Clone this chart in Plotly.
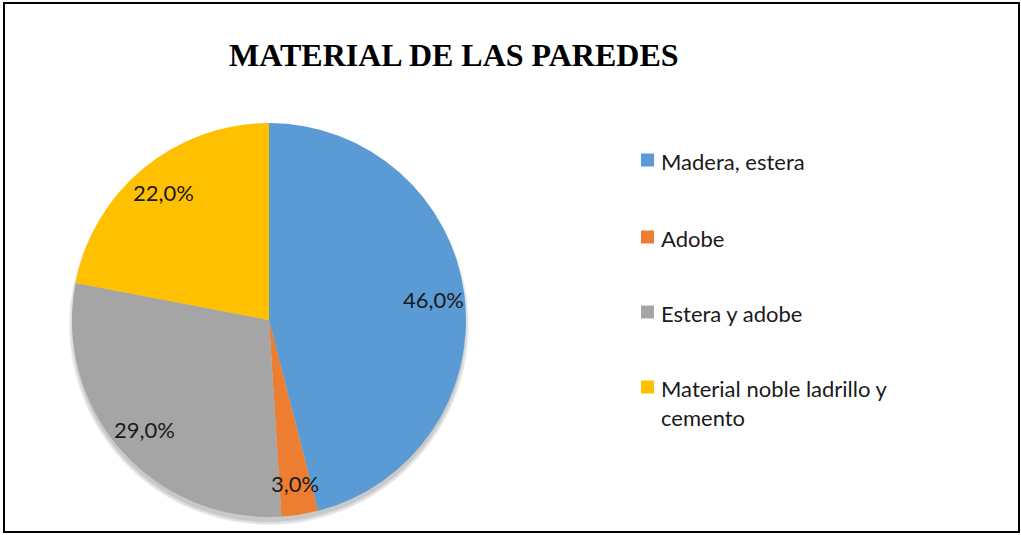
import math
import plotly.graph_objects as go

labels = ["Madera, estera", "Adobe", "Estera y adobe", "Material noble ladrillo y cemento"]
legend_text = ["Madera, estera", "Adobe", "Estera y adobe", "Material noble ladrillo y<br>cemento"]
values = [46.0, 3.0, 29.0, 22.0]
value_text = ["46,0%", "3,0%", "29,0%", "22,0%"]
colors = ["#5B9BD5", "#ED7D31", "#A5A5A5", "#FFC000"]

W, H = 1021, 535
cx, cy, r = 269, 320, 197
FONT = "Lato, Open Sans, sans-serif"

fig = go.Figure()
fig.add_trace(go.Pie(
    labels=labels, values=values, textinfo="none",
    marker=dict(colors=colors, line=dict(color="white", width=0)),
    sort=False, direction="clockwise", rotation=0,
    domain=dict(x=[(cx - r) / W, (cx + r) / W], y=[(H - cy - r) / H, (H - cy + r) / H]),
    showlegend=False, hoverinfo="label+percent",
))

shapes = []
# soft shadow beneath the pie
for dr, op in [(3, 0.05), (2, 0.07), (0, 0.10)]:
    shapes.append(dict(type="circle", xref="paper", yref="paper", layer="below",
                       x0=(cx - r - dr) / W, x1=(cx + r + dr) / W,
                       y0=(H - (cy + 5) - r - dr) / H, y1=(H - (cy + 5) + r + dr) / H,
                       line=dict(width=0), fillcolor=f"rgba(0,0,0,{op})"))
shapes.append(dict(type="rect", xref="paper", yref="paper", x0=4 / W, x1=1019 / W, y0=3 / H, y1=532 / H,
                   line=dict(color="black", width=2), fillcolor="rgba(0,0,0,0)", layer="above"))

annotations = [
    dict(text="<b>MATERIAL DE LAS PAREDES</b>", x=454 / W, y=1 - 55 / H, xref="paper", yref="paper",
         showarrow=False, xanchor="center", yanchor="middle",
         font=dict(family="Liberation Serif, Times New Roman, serif", size=32, color="black")),
]

# data labels at the middle angle of each slice
total = sum(values)
cum = 0.0
for v, t in zip(values, value_text):
    mid = (cum + v / 2) / total * 2 * math.pi
    cum += v
    rr = 0.84 * r
    lx = cx + rr * math.sin(mid)
    ly = cy - rr * math.cos(mid)
    annotations.append(dict(text=t, x=lx / W, y=1 - ly / H, xref="paper", yref="paper",
                            showarrow=False, xanchor="center", yanchor="middle",
                            font=dict(family=FONT, size=22, color="#1a1a1a")))

legend_y = [160, 237, 312, 387]
for lab, col, ly in zip(legend_text, colors, legend_y):
    shapes.append(dict(type="rect", xref="paper", yref="paper",
                       x0=641 / W, x1=654 / W, y0=1 - (ly + 6.5) / H, y1=1 - (ly - 6.5) / H,
                       line=dict(width=0), fillcolor=col))
    annotations.append(dict(text=lab, x=659 / W, y=1 - (ly - 14) / H, xref="paper", yref="paper",
                            showarrow=False, xanchor="left", yanchor="top", align="left",
                            font=dict(family=FONT, size=22, color="#1a1a1a")))

fig.update_layout(
    width=W, height=H, margin=dict(l=0, r=0, t=0, b=0),
    paper_bgcolor="white", plot_bgcolor="white",
    shapes=shapes, annotations=annotations,
)
fig.write_html("out.html", config={"displayModeBar": False},
               post_script="document.body.style.margin='0';")
